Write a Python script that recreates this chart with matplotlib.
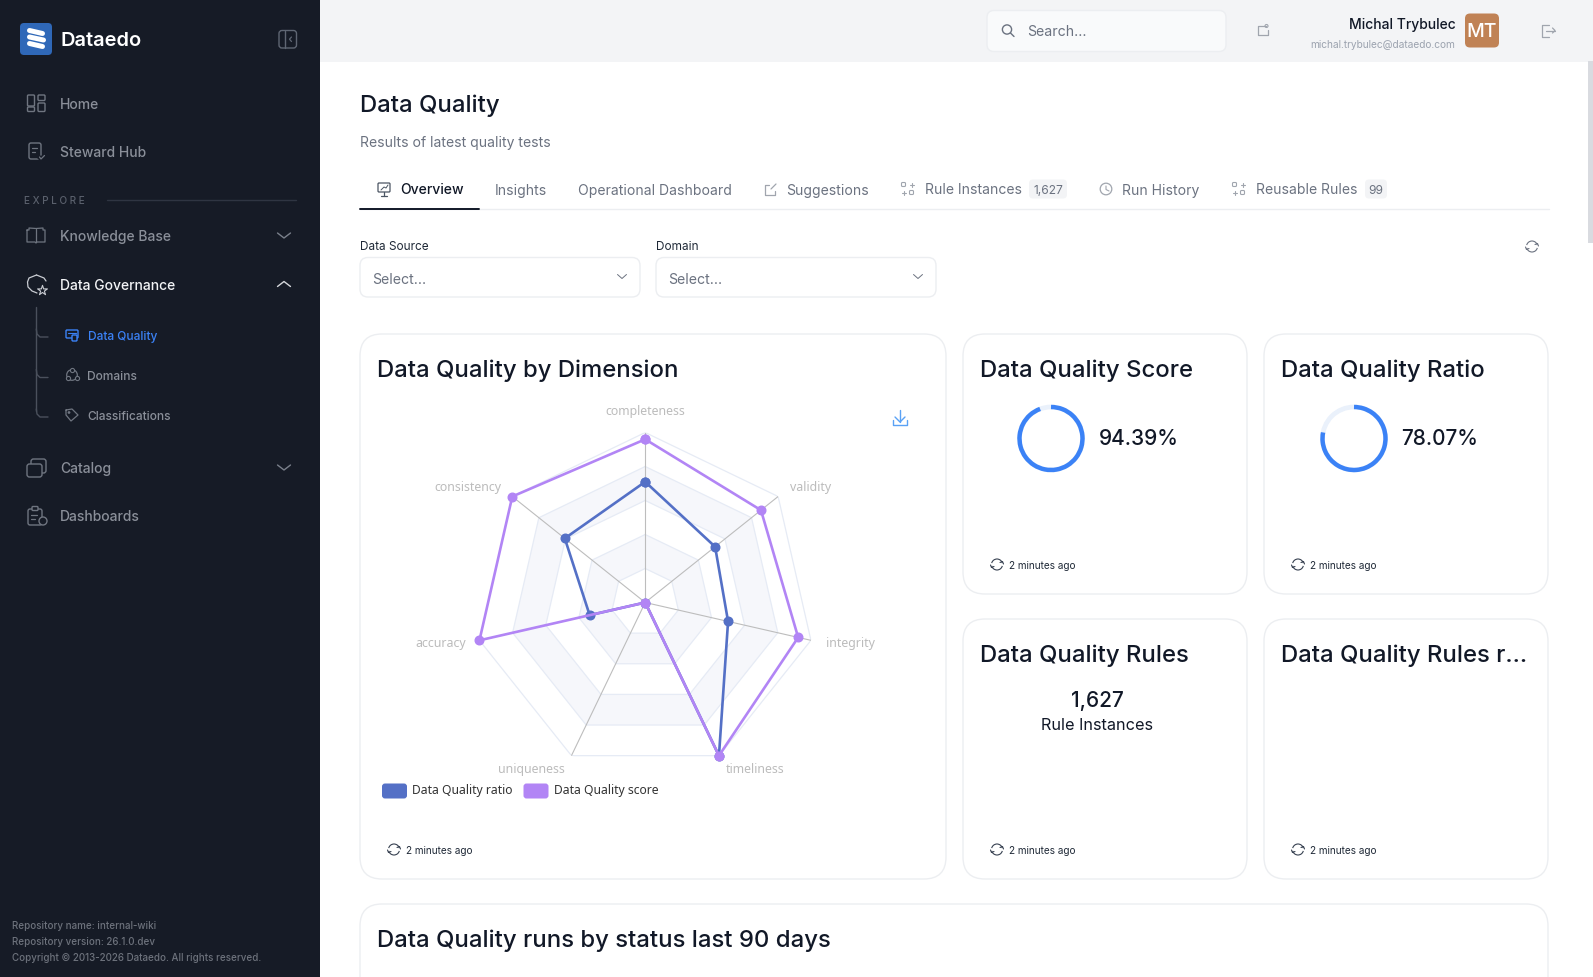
import numpy as np
import matplotlib
matplotlib.use("Agg")
import matplotlib.pyplot as plt
from matplotlib.patches import FancyBboxPatch, Rectangle, Arc, Circle

plt.rcParams['font.family'] = ['Inter', 'DejaVu Sans']

W, H = 1593, 978

# radar data, percent
dimensions = ["completeness", "validity", "integrity", "timeliness",
              "uniqueness", "accuracy", "consistency"]
ratio_values = [71, 52.6, 50, 100, 0, 33.5, 60.5]
score_values = [96, 87.1, 92.3, 100, 0, 100, 100]
ring_levels = [20, 40, 60, 80, 100]

score_pct = 94.39
ratio_pct = 78.07
rule_instances = 1627

nav_top = ["Home", "Steward Hub"]
nav_explore = ["Knowledge Base", "Data Governance"]
nav_sub = ["Data Quality", "Domains", "Classifications"]
nav_bottom = ["Catalog", "Dashboards"]
tabs = ["Overview", "Insights", "Operational Dashboard", "Suggestions",
        "Rule Instances", "Run History", "Reusable Rules"]
footer = ["Repository name: internal-wiki", "Repository version: 26.1.0.dev",
          "Copyright © 2013-2026 Dataedo. All rights reserved."]

SIDE = "#161b26"
BLUE = "#5470c6"
PURPLE = "#b285f5"
BORDER = "#eceef1"
ICON = "#6f7580"

fig = plt.figure(figsize=(W / 100, H / 100), dpi=100, facecolor="white")
ax = fig.add_axes([0, 0, 1, 1])
ax.set_xlim(0, W)
ax.set_ylim(H, 0)
ax.axis("off")


def box(x, y, w, h, r, fc="white", ec=BORDER, lw=1.0, z=1):
    p = FancyBboxPatch((x + r, y + r), w - 2 * r, h - 2 * r,
                       boxstyle="round,pad=%s,rounding_size=%s" % (r, r),
                       fc=fc, ec=ec, lw=lw, zorder=z)
    ax.add_patch(p)


def txt(x, y, s, size=10, color="#111827", ha="left", weight="normal", **kw):
    ax.text(x, y, s, fontsize=size, color=color, ha=ha, va="center",
            weight=weight, zorder=5, **kw)


def stroke(xs, ys, color=ICON, lw=0.9, z=5):
    ax.plot(xs, ys, color=color, lw=lw, zorder=z, solid_capstyle="round")


def sync(x, y, color="#374151", d=11):
    ax.add_patch(Arc((x, y), d, d, theta1=15, theta2=165, color=color, lw=0.8, zorder=5))
    ax.add_patch(Arc((x, y), d, d, theta1=195, theta2=345, color=color, lw=0.8, zorder=5))
    stroke([x - d / 2 - 1, x - d / 2, x - d / 2 + 2.5], [y + 0.5, y + 3, y + 2], color, 0.8)
    stroke([x + d / 2 + 1, x + d / 2, x + d / 2 - 2.5], [y - 0.5, y - 3, y - 2], color, 0.8)


def refresh(x, y):
    sync(x, y)
    txt(x + 12, y + 0.5, "2 minutes ago", 7.2, "#1f2937")


def ring(cx, cy, pct):
    ax.add_patch(Circle((cx, cy), 31.5, fc="none", ec="#eaf1fb", lw=3.4, zorder=4))
    # y axis is flipped, so angles run clockwise on screen
    ax.add_patch(Arc((cx, cy), 63, 63, theta1=-90, theta2=-90 + 360 * pct / 100,
                     color="#3b82f6", lw=3.2, zorder=5))


def swap_icon(x, y, color="#a0a5ae"):
    for dx, dy in [(1.5, 1.5), (9.5, 1.5), (1.5, 9.5), (9.5, 9.5)]:
        if (dx, dy) in [(1.5, 1.5), (9.5, 9.5)]:
            box(x + dx - 2, y + dy - 2, 4, 4, 1, fc="none", ec=color, lw=0.8, z=3)
        else:
            stroke([x + dx - 2, x + dx + 2], [y + dy, y + dy], color, 0.8)
            stroke([x + dx, x + dx], [y + dy - 2, y + dy + 2], color, 0.8)


# page background bits
ax.add_patch(Rectangle((320, 0), W - 320, 62.5, fc="#f3f4f6", ec="none", zorder=0))
ax.add_patch(Rectangle((0, 0), 320, H, fc=SIDE, ec="none", zorder=2))
ax.add_patch(Rectangle((1588, 62), 5, 182, fc="#d9dbe0", ec="none", zorder=2))

# sidebar logo
box(20, 24, 32, 32, 4, fc="#2f68b8", ec="none", z=3)
for yy, ww in [(33, 13), (39.5, 14), (46, 13)]:
    ax.plot([29.5, 29.5 + ww], [yy - 1.5, yy + 1.5], color="white", lw=3.6, zorder=4, solid_capstyle="round")
txt(61, 41, "Dataedo", 14.4, "white", weight="semibold")
box(279, 31.5, 17.5, 17.5, 3, fc="none", ec="#5f6673", lw=1, z=3)
stroke([285, 285], [32, 48.5], "#5f6673", 1)
stroke([291.5, 289.5, 291.5], [38, 40.2, 42.5], "#5f6673", 0.9)

nav_grey = "#8a8f99"
txt(60, 105, nav_top[0], 10, nav_grey, weight="medium")
txt(60, 153, nav_top[1], 10, nav_grey, weight="medium")
box(27.5, 96, 7, 11, 1, fc="none", ec=ICON, lw=1, z=3)
box(38, 96, 7, 5.5, 1, fc="none", ec=ICON, lw=1, z=3)
box(27.5, 108, 7, 4.5, 1, fc="none", ec=ICON, lw=1, z=3)
box(38, 104, 7, 8.5, 1, fc="none", ec=ICON, lw=1, z=3)
box(29, 144, 12, 16, 2, fc="none", ec=ICON, lw=1, z=3)
stroke([32, 37], [149, 149])
stroke([32, 35], [153, 153])
stroke([39, 41, 45], [158, 160, 156], SIDE, 3, 4)
stroke([39.5, 41, 44.5], [158, 160, 156.5])

txt(24, 201, "E X P L O R E", 7.2, "#5a606c", weight="medium")
stroke([107, 296], [201, 201], "#2f3542", 1, 3)

txt(60, 237, nav_explore[0], 10, nav_grey, weight="medium")
txt(60, 285.5, nav_explore[1], 10, "#f3f4f6", weight="medium")
# book
stroke([27, 29, 29, 36, 43, 43, 45, 45, 37, 36, 35, 27, 27],
       [231, 231, 229, 229.5, 229, 231, 231, 243, 243, 244, 243, 243, 231])
stroke([36, 36], [229.5, 243])
# shield + star
stroke([36.5, 29, 27.5, 28, 32, 37], [276, 279, 283, 288, 292, 294], "#c9ccd2")
stroke([36.5, 44, 46], [276, 279, 282], "#c9ccd2")
ax.scatter([42], [291], marker="*", s=55, fc=SIDE, ec="#c9ccd2", lw=0.8, zorder=5)

for xx, yy, up in [(284, 236.5, False), (284, 285, True), (284, 468.5, False)]:
    d = -5 if up else 5
    stroke([xx - 6.5, xx, xx + 6.5], [yy - d / 2, yy + d / 2, yy - d / 2],
           "#d5d7db" if up else "#7a808b", 1)

stroke([36.3, 36.3], [308, 412], "#4a505c", 1, 3)
for yy in [338, 378.5, 418]:
    stroke([36.3, 37, 40, 48], [yy - 8, yy - 3, yy, yy], "#4a505c", 1, 3)

# sub menu icons
dq_col = "#3b82f6"
for name, yy, col in zip(nav_sub, [337, 377, 417], [dq_col, nav_grey, nav_grey]):
    txt(87.5, yy, name, 8.6, col, weight="medium")
box(66, 331, 12, 8, 1, fc="none", ec=dq_col, lw=1, z=3)
box(72, 336, 5, 6, 1, fc=SIDE, ec=dq_col, lw=1, z=4)
stroke([68, 76], [334, 334], dq_col, 0.8)
ax.add_patch(Circle((72, 376), 5.3, fc="none", ec=ICON, lw=0.9, zorder=4))
ax.scatter([72, 67.5, 76.5], [371, 379, 379], s=9, fc=SIDE, ec=ICON, lw=0.8, zorder=5)
stroke([66, 66, 71, 78, 72, 66], [411, 416, 422, 416, 410, 411])
ax.scatter([69], [413.5], s=4, fc=ICON, ec="none", zorder=5)

txt(60, 469, nav_bottom[0], 10, nav_grey, weight="medium")
txt(60, 517, nav_bottom[1], 10, nav_grey, weight="medium")
box(31, 460, 15, 14, 2.5, fc="none", ec=ICON, lw=1, z=3)
box(27, 465, 15, 13, 2.5, fc=SIDE, ec=ICON, lw=1, z=3)
box(28, 510, 14, 16, 2, fc="none", ec=ICON, lw=1, z=3)
box(32, 507.5, 6, 4, 1, fc=SIDE, ec=ICON, lw=1, z=4)
stroke([31, 37], [516, 516])
stroke([31, 35], [520, 520])
ax.add_patch(Circle((43, 522), 4, fc=SIDE, ec=ICON, lw=1, zorder=6))

for s, yy in zip(footer, [926, 942, 958]):
    txt(12, yy, s, 7.05, "#6d727c", weight="medium")

# top bar
box(987, 11.5, 239, 41, 7, fc="#f9fafb", ec="#eceef1", z=1)
ax.add_patch(Circle((1007, 30.5), 4.6, fc="none", ec="#6b7280", lw=1, zorder=5))
stroke([1010.5, 1014], [34, 37.5], "#6b7280", 1)
txt(1027, 32, "Search...", 10.2, "#6b7280")
stroke([1266, 1258, 1258, 1268, 1268], [26.5, 26.5, 36, 36, 31], "#a0a5ae", 0.9)
ax.add_patch(Circle((1266.5, 27), 1.5, fc="none", ec="#a0a5ae", lw=0.8, zorder=5))
txt(1455.5, 24.5, "Michal Trybulec", 10, "#111827", ha="right", weight="medium")
txt(1455.5, 45, "michal.trybulec@dataedo.com", 7.3, "#9ca3af", ha="right")
box(1465, 14.5, 34, 34, 5, fc="#c08255", ec="none", z=3)
txt(1482, 32, "MT", 14, "white", ha="center", weight="medium")
stroke([1549, 1542, 1542, 1549], [25.5, 25.5, 37.5, 37.5], "#a0a5ae", 0.9)
stroke([1546, 1555], [31.5, 31.5], "#a0a5ae", 0.9)
stroke([1552.5, 1555, 1552.5], [29, 31.5, 34], "#a0a5ae", 0.9)

# heading
txt(360, 105.5, "Data Quality", 17.2, "#111827", weight="medium")
txt(360, 142.5, "Results of latest quality tests", 10.05, "#6b7280")

# tabs
tab_x = [400, 494.5, 578, 786.5, 925, 1122.5, 1256]
for i, (name, xx) in enumerate(zip(tabs, tab_x)):
    txt(xx, 190.5, name, 10.05, "#111827" if i == 0 else "#6b7280", weight="medium" if i == 0 else "normal")
stroke([360, 1549], [210, 210], BORDER, 1, 1)
stroke([360, 479], [210, 210], "#111827", 1.4, 2)
box(378, 184, 12, 9, 1, fc="none", ec="#4b5563", lw=0.9, z=3)
stroke([384, 384], [193, 197], "#4b5563")
stroke([381, 387], [197, 197], "#4b5563")
stroke([381, 384, 386, 388], [191, 188, 189, 186], "#4b5563", 0.7)
stroke([769, 765, 765, 775, 775], [186, 186, 196, 196, 192], "#a0a5ae")
stroke([771, 776], [190, 185], "#a0a5ae")
swap_icon(902, 184)
ax.add_patch(Circle((1106, 190), 5.8, fc="none", ec="#a0a5ae", lw=0.9, zorder=5))
stroke([1106, 1106, 1109], [187, 190.5, 192], "#a0a5ae", 0.8)
swap_icon(1233, 184)
box(1029, 180.5, 38, 19, 4, fc="#f3f4f6", ec="none", z=2)
txt(1048, 190.5, "1,627", 8.6, "#6b7280", ha="center")
box(1365, 180.5, 22, 19, 4, fc="#f3f4f6", ec="none", z=2)
txt(1376, 190.5, "99", 8.6, "#6b7280", ha="center")

# filters
for x0, label in [(360, "Data Source"), (656, "Domain")]:
    txt(x0, 247.5, label, 8.5, "#1f2937", weight="normal")
    box(x0, 258.5, 280, 39.5, 8, ec=BORDER)
    txt(x0 + 12.5, 279.5, "Select...", 10.2, "#6b7280")
    stroke([x0 + 257.5, x0 + 262, x0 + 266.5], [275.5, 279.5, 275.5], "#6b7280", 0.7)
sync(1532, 247.5, "#6b7280")

# cards
box(360, 335, 586, 545, 22)
box(963, 335, 284, 260, 22)
box(1264, 335, 284, 260, 22)
box(963, 620, 284, 260, 22)
box(1264, 620, 284, 260, 22)
box(360, 905, 1188, 120, 22)

txt(377, 370.5, "Data Quality by Dimension", 17.2, weight="medium")
txt(979.5, 370.5, "Data Quality Score", 17.2, weight="medium")
txt(1281, 370.5, "Data Quality Ratio", 17.2, weight="medium")
txt(979.5, 655.5, "Data Quality Rules", 17.2, weight="medium")
txt(1281, 655.5, "Data Quality Rules r...", 17.2, weight="medium")
txt(377, 940.5, "Data Quality runs by status last 90 days", 17.2, weight="medium")

ring(1051, 439.5, score_pct)
ring(1354, 439.5, ratio_pct)
txt(1098.5, 439, "%.2f%%" % score_pct, 15, weight="medium")
txt(1401.5, 439, "%.2f%%" % ratio_pct, 15, weight="medium")
txt(1097, 701, "{:,}".format(rule_instances), 15, ha="center", weight="medium")
txt(1097, 725.5, "Rule Instances", 11.7, ha="center")

for xx, yy in [(997, 565.5), (1298, 565.5), (394, 850.5), (997, 850.5), (1298, 850.5)]:
    refresh(xx, yy)

# download icon
stroke([900, 900], [411, 423], "#5aa2f5", 1, 3)
stroke([895, 900, 905], [418, 423, 418], "#5aa2f5", 1, 3)
stroke([893, 893, 907, 907], [421, 426, 426, 421], "#5aa2f5", 1, 3)

# legend
box(382, 784.5, 25, 15, 3, fc=BLUE, ec="none", z=3)
txt(412, 790.5, "Data Quality ratio", 8.75, "#333333", family="Noto Sans")
box(523.5, 784.5, 25, 15, 3, fc=PURPLE, ec="none", z=3)
txt(553.5, 790.5, "Data Quality score", 8.75, "#333333", family="Noto Sans")

# radar on a real polar axes
cx, cy, R = 645.2, 603.5, 170
rad = fig.add_axes([(cx - R) / W, (H - cy - R) / H, 2 * R / W, 2 * R / H], projection="polar")
rad.set_theta_zero_location("N")
rad.set_theta_direction(-1)
rad.set_ylim(0, 100)
rad.axis("off")
rad.patch.set_alpha(0)

theta = 2 * np.pi * np.arange(len(dimensions)) / len(dimensions)
tc = np.append(theta, theta[0])


def closed(vals):
    return np.append(vals, vals[0])


for i, lev in enumerate(ring_levels):
    if i % 2 == 1:
        lo = ring_levels[i - 1]
        rad.fill(np.concatenate([tc, tc[::-1]]),
                 np.concatenate([np.full(8, lev), np.full(8, lo)]),
                 fc="#d2dbee", alpha=0.2, ec="none", zorder=1)
    rad.plot(tc, np.full(8, lev), color="#e6ebf5", lw=0.9, zorder=2)

for t in theta:
    rad.plot([t, t], [0, 100], color="#bdbdbd", lw=0.8, zorder=3)

for vals, col in [(ratio_values, BLUE), (score_values, PURPLE)]:
    rad.plot(tc, closed(vals), color=col, lw=1.9, marker="o", ms=6.2, mec=col, mfc=col,
             zorder=4, clip_on=False)

label_pos = [(645.7, 412, "center"), (790, 487.5, "left"), (826, 643.5, "left"),
             (726, 769.5, "left"), (565, 769.5, "right"), (466, 643.5, "right"), (501, 487.5, "right")]
for name, (lx, ly, ha) in zip(dimensions, label_pos):
    ax.text(lx, ly, name, fontsize=8.9, color="#bcbcbc", ha=ha, va="center", family="Noto Sans", zorder=6)

fig.savefig("out.png", dpi=100, facecolor="white")
